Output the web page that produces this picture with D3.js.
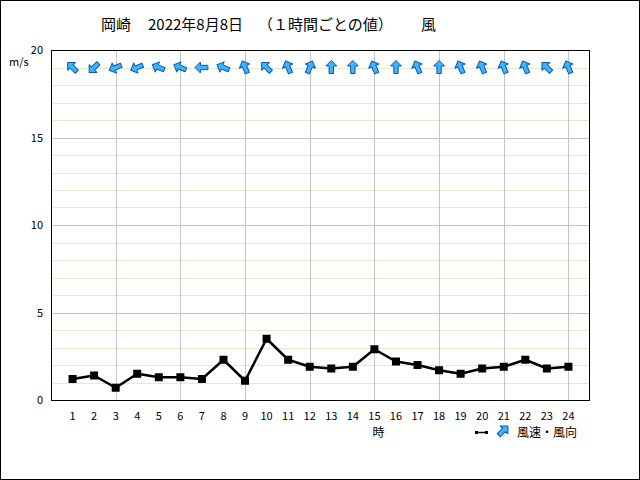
<!DOCTYPE html>
<html><head><meta charset="utf-8">
<script src="https://cdn.jsdelivr.net/npm/d3@7"></script>
<style>
html,body{margin:0;padding:0;background:#fff;}
svg{display:block;}
text{font-family:"Noto Sans CJK JP","DejaVu Sans",sans-serif;}
</style></head>
<body>
<svg id="c" width="640" height="480"></svg>
<script>
const hours = [1,2,3,4,5,6,7,8,9,10,11,12,13,14,15,16,17,18,19,20,21,22,23,24];
const windSpeed = [1.2,1.4,0.7,1.5,1.3,1.3,1.2,2.3,1.1,3.5,2.3,1.9,1.8,1.9,2.9,2.2,2.0,1.7,1.5,1.8,1.9,2.3,1.8,1.9];
// direction the drawn arrow points to (16-point compass, screen up = N)
const arrowDir = ["NW","SW","WSW","WSW","WNW","WNW","W","WNW","NNW","NW","NNW","NNE","N","N","NNW","N","NNW","N","NNW","NNW","NNW","NNW","NW","NNW"];
const yTicks = [0,5,10,15,20];
const titleParts = ["岡崎","2022年8月8日","（１時間ごとの値）","風"];
const xTitle = "時";
const yUnit = "m/s";
const legendText = "風速・風向";

const compass = ["N","NNE","NE","ENE","E","ESE","SE","SSE","S","SSW","SW","WSW","W","WNW","NW","NNW"];
const svg = d3.select("#c");
const L=51, R=590, T=50, B=400;
const x = d3.scaleLinear().domain([0,25]).range([L,R]);
const y = d3.scaleLinear().domain([0,20]).range([B,T]);

svg.append("rect").attr("x",0.5).attr("y",0.5).attr("width",639).attr("height",479).attr("fill","#fff").attr("stroke","#000");

// minor grid
const g = svg.append("g").attr("shape-rendering","crispEdges");
g.selectAll(".mn").data(d3.range(1,20).filter(v=>v%5!==0)).enter().append("line")
 .attr("x1",L).attr("x2",R).attr("y1",d=>Math.round(y(d))+0.5).attr("y2",d=>Math.round(y(d))+0.5)
 .attr("stroke","#ebe7cf").attr("stroke-width",1);
g.selectAll(".mj").data([5,10,15]).enter().append("line")
 .attr("x1",L).attr("x2",R).attr("y1",d=>Math.round(y(d))+0.5).attr("y2",d=>Math.round(y(d))+0.5)
 .attr("stroke","#c4c4c4").attr("stroke-width",1);
g.selectAll(".vx").data(hours.filter(h=>h%3===0)).enter().append("line")
 .attr("y1",T).attr("y2",B).attr("x1",d=>Math.round(x(d))+0.5).attr("x2",d=>Math.round(x(d))+0.5)
 .attr("stroke","#c4c4c4").attr("stroke-width",1);

svg.append("rect").attr("x",L+0.5).attr("y",T+0.5).attr("width",R-L-1).attr("height",B-T).attr("fill","none").attr("stroke","#000").attr("shape-rendering","crispEdges");

// y labels
svg.selectAll(".yl").data(yTicks).enter().append("text")
 .attr("x",43).attr("y",d=>y(d)+4).attr("text-anchor","end").attr("font-size",11).attr("font-family","DejaVu Sans Condensed, DejaVu Sans").text(d=>d);
svg.append("text").attr("x",9).attr("y",66).attr("font-size",11).attr("font-family","DejaVu Sans Condensed, DejaVu Sans").text(yUnit);

// x labels
svg.selectAll(".xl").data(hours).enter().append("text")
 .attr("x",d=>x(d)).attr("y",420).attr("text-anchor","middle").attr("font-size",11).attr("font-family","DejaVu Sans Condensed, DejaVu Sans").text(d=>d);
svg.append("text").attr("x",x(15)+4).attr("y",437).attr("text-anchor","middle").attr("font-size",12).text(xTitle);

// title
const tx=[101,148,258,421];
svg.selectAll(".tt").data(titleParts).enter().append("text")
 .attr("x",(d,i)=>tx[i]).attr("y",30).attr("font-size",15).text(d=>d);

// line
const line = d3.line().x((d,i)=>x(hours[i])).y(d=>y(d));
svg.append("path").datum(windSpeed).attr("d",line).attr("fill","none").attr("stroke","#000").attr("stroke-width",2.5).attr("stroke-linejoin","round");
svg.selectAll(".pt").data(windSpeed).enter().append("rect")
 .attr("x",(d,i)=>x(hours[i])-4).attr("y",d=>y(d)-4).attr("width",8).attr("height",8).attr("fill","#000");

// arrows
const arrowPath = "M0,-7 L5.5,-1.5 L2.2,-1.5 L2.2,6 L-2.2,6 L-2.2,-1.5 L-5.5,-1.5 Z";
function drawArrow(sel, cx, cy, deg){
  sel.append("path").attr("d",arrowPath)
   .attr("transform",`translate(${cx},${cy}) rotate(${deg})`)
   .attr("fill","#3cb4ff").attr("stroke","#0a5ab4").attr("stroke-width",1).attr("stroke-linejoin","round");
}
hours.forEach((h,i)=>{
  const deg = compass.indexOf(arrowDir[i])*22.5;
  drawArrow(svg, x(h), y(19), deg);
});

// legend
svg.append("line").attr("x1",476).attr("x2",487).attr("y1",432.5).attr("y2",432.5).attr("stroke","#000").attr("stroke-width",1.5);
svg.append("rect").attr("x",475).attr("y",431).attr("width",3).attr("height",3).attr("fill","#000");
svg.append("rect").attr("x",485).attr("y",431).attr("width",3).attr("height",3).attr("fill","#000");
drawArrow(svg, 503, 431, 45);
svg.append("text").attr("x",517).attr("y",437).attr("font-size",12).text(legendText);
</script>
</body></html>
